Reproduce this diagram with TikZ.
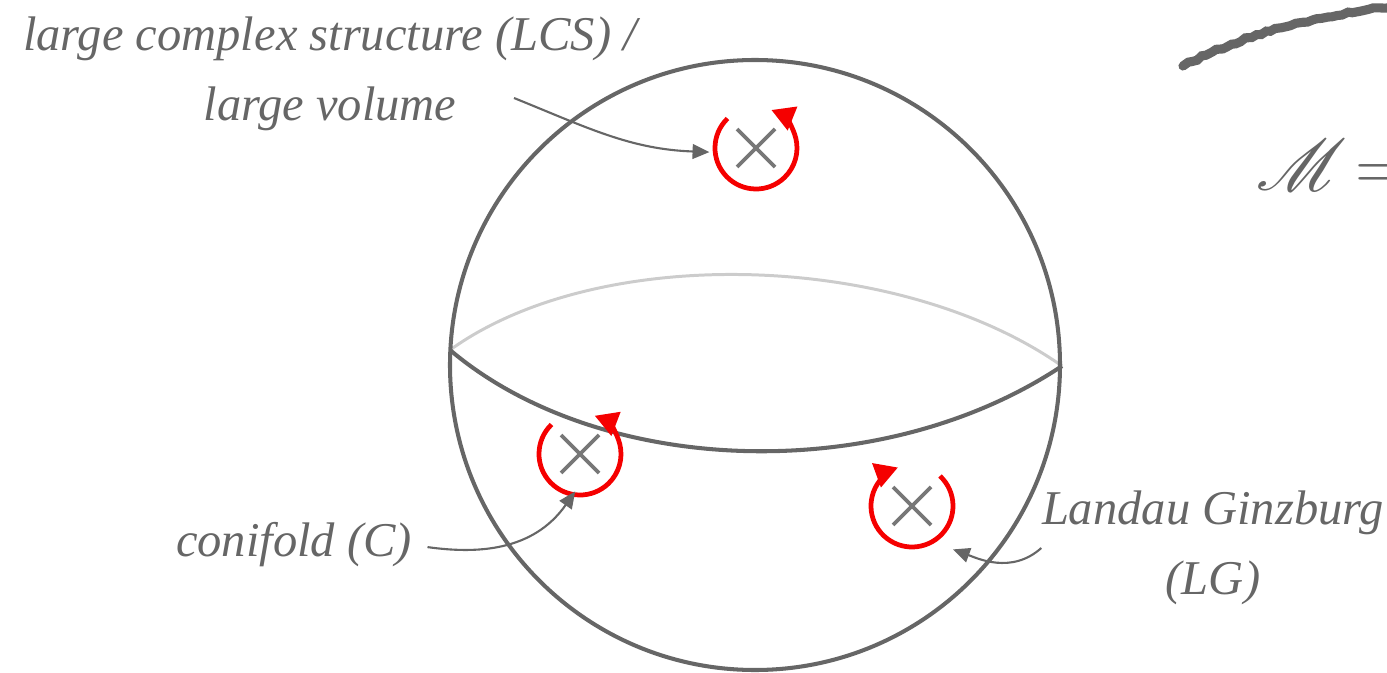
\documentclass[tikz,border=0pt]{standalone}
\usepackage{fontspec}
\setmainfont{Liberation Serif}
\usepackage{mathrsfs}
\usetikzlibrary{arrows.meta,decorations.pathmorphing}
\definecolor{inkgray}{HTML}{666666}
\definecolor{crossgray}{HTML}{777777}
\definecolor{backgray}{HTML}{CCCCCC}
\definecolor{loopred}{HTML}{F50000}

\begin{document}
\begin{tikzpicture}[x=0.01cm,y=0.01cm,
 lbl/.style={align=center,text=inkgray,font=\fontsize{13.8}{19.8}\selectfont\itshape,inner sep=0pt},
 pole/.style={circle,minimum size=0.92cm,inner sep=0pt},
 conn/.style={-{Triangle[length=4.8pt,width=4.2pt]},line width=0.6pt,color=inkgray},
 loop/.style={-{Triangle[length=6.5pt,width=7pt]},line width=1.35pt,color=loopred},
 cross/.style={line width=1.1pt,color=crossgray}]
 \useasboundingbox (0,0) rectangle (1387,672);
 \clip (0,0) rectangle (1387,672);
 % sphere with equator
 \draw[backgray,line width=0.85pt] (450,322) .. controls (600,430) and (900,420) .. (1062,306);
 \draw[inkgray,line width=1.15pt] (755,307) circle (305);
 \draw[inkgray,line width=1.15pt] (450,322) .. controls (600,195) and (880,185) .. (1062,306);
 % singular points
 \node[pole] (lcs) at (756,524) {};
 \node[pole] (cf) at (580,218) {};
 \node[pole] (lg) at (912,166) {};
 \foreach \p/\a/\b in {lcs/134/428,cf/134/429,lg/47/-250}{
   \draw[cross] ([shift={(-19,-19)}]\p.center) -- ([shift={(19,19)}]\p.center)
     ([shift={(-19,19)}]\p.center) -- ([shift={(19,-19)}]\p.center);
   \draw[loop] ([shift={(\a:41)}]\p.center) arc[start angle=\a,end angle=\b,radius=41];
 }
 % labels
 \node[lbl] (lcslab) at (330,598) {large complex structure (LCS) /\\large volume};
 \node[lbl] (cflab) at (294,127) {conifold (C)};
 \node[lbl] (lglab) at (1213,124) {Landau Ginzburg\\(LG)};
 \coordinate (lcsfrom) at (514,574);
 \draw[conn] (lcsfrom) to[out=-22,in=178] (lcs.185);
 \draw[conn,shorten <=0.15cm,shorten >=-0.1cm] (cflab.east) to[out=-8,in=235] (cf.-103);
 \draw[conn,shorten >=0.15cm] (lglab.west) to[out=222,in=-20] (lg.-55);
 % moduli space
 \draw[inkgray,line width=2.6pt,line cap=round,decorate,
   decoration={random steps,segment length=1.5pt,amplitude=0.35pt}]
   (1183,606) .. controls (1250,640) and (1320,658) .. (1400,666);
 \node[text=inkgray,anchor=west,inner sep=0pt,font=\fontsize{21}{22}\selectfont] (msp) at (1256,507) {$\mathscr{M}\mkern-3mu=$};
\end{tikzpicture}
\end{document}
